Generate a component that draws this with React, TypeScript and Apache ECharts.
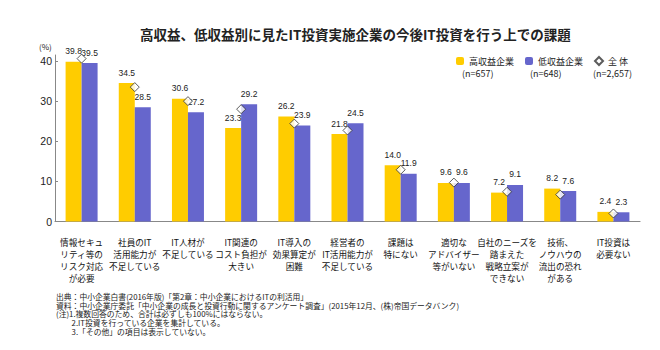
import React, { useEffect, useRef } from "react";
import * as echarts from "echarts";

const categories = [
  "情報セキュ\nリティ等の\nリスク対応\nが必要",
  "社員のIT\n活用能力が\n不足している",
  "IT人材が\n不足している",
  "IT関連の\nコスト負担が\n大きい",
  "IT導入の\n効果算定が\n困難",
  "経営者の\nIT活用能力が\n不足している",
  "課題は\n特にない",
  "適切な\nアドバイザー\n等がいない",
  "自社のニーズを\n踏まえた\n戦略立案が\nできない",
  "技術、\nノウハウの\n流出の恐れ\nがある",
  "IT投資は\n必要ない",
];

const highProfit = [39.8, 34.5, 30.6, 23.3, 26.2, 21.8, 14.0, 9.6, 7.2, 8.2, 2.4];
const lowProfit = [39.5, 28.5, 27.2, 29.2, 23.9, 24.5, 11.9, 9.6, 9.1, 7.6, 2.3];
const overall = [40.6, 33.5, 30.0, 28.0, 24.4, 22.7, 12.9, 9.7, 7.4, 6.7, 2.0];

const yTicks = [0, 10, 20, 30, 40];

const seriesNames = ["高収益企業", "低収益企業", "全 体"];
const seriesCounts = ["(n=657)", "(n=648)", "(n=2,657)"];

const titleText = "高収益、低収益別に見たIT投資実施企業の今後IT投資を行う上での課題";

const notes = [
  "出典：中小企業白書(2016年版)「第2章：中小企業におけるITの利活用」",
  "資料：中小企業庁委託「中小企業の成長と投資行動に関するアンケート調査」(2015年12月、(株)帝国データバンク)",
  "(注)1.複数回答のため、合計は必ずしも100%にはならない。",
  "　　2.IT投資を行っている企業を集計している。",
  "　　3.「その他」の項目は表示していない。",
];

const CJK = '"Noto Sans CJK JP", "Noto Sans", sans-serif';

export default function App() {
  const ref = useRef<HTMLDivElement>(null);

  useEffect(() => {
    document.body.style.margin = "0";
    if (!ref.current) return;
    const chart = echarts.init(ref.current, undefined, { renderer: "svg" });

    const countX = [462, 530, 593];

    const valueLabel = {
      show: true,
      position: "top",
      distance: 6,
      fontSize: 8.5,
      fontFamily: '"Liberation Sans Narrow", "Liberation Sans", sans-serif',
      color: "#222",
      formatter: (p: any) => Number(p.value).toFixed(1),
    };

    chart.setOption({
      animation: false,
      backgroundColor: "#ffffff",
      title: {
        text: titleText,
        left: 135,
        top: 21,
        textStyle: {
          fontSize: 13.5,
          fontWeight: "bold",
          fontFamily: CJK,
          color: "#222",
          lineHeight: 16,
        },
      },
      legend: {
        data: seriesNames,
        left: 451,
        top: 51,
        itemWidth: 8,
        itemHeight: 8,
        itemGap: 11,
        selectedMode: false,
        textStyle: { fontSize: 9, fontFamily: CJK, color: "#222" },
      },
      grid: { left: 55, right: 20, top: 55, bottom: 128.5 },
      xAxis: {
        type: "category",
        data: categories,
        axisLine: { lineStyle: { color: "#888", width: 1.2 } },
        axisTick: { show: false },
        axisLabel: {
          interval: 0,
          fontSize: 8.6,
          lineHeight: 12,
          margin: 14,
          color: "#111",
          fontFamily: CJK,
        },
      },
      yAxis: {
        type: "value",
        min: 0,
        max: 41.5,
        interval: 10,
        splitLine: { show: false },
        axisLine: { show: true, lineStyle: { color: "#888" } },
        axisTick: {
          show: true,
          inside: true,
          length: 3,
          customValues: yTicks,
          lineStyle: { color: "#888" },
        },
        axisLabel: {
          customValues: yTicks,
          fontSize: 10.5,
          margin: 3,
          color: "#222",
          fontFamily: '"Liberation Sans", sans-serif',
        },
      },
      graphic: [
        {
          type: "text",
          left: 39,
          top: 42,
          style: { text: "(%)", fontSize: 8, fill: "#222", fontFamily: CJK },
        },
        ...seriesCounts.map((t, i) => ({
          type: "text",
          x: countX[i],
          y: 73,
          style: {
            text: t,
            fontSize: 9,
            fill: "#222",
            fontFamily: CJK,
            verticalAlign: "middle",
          },
        })),
        {
          type: "text",
          left: 56,
          top: 292,
          style: {
            text: notes.join("\n"),
            fontSize: 7.8,
            lineHeight: 8.7,
            fill: "#222",
            fontFamily: CJK,
          },
        },
      ],
      series: [
        {
          name: seriesNames[0],
          type: "bar",
          data: highProfit,
          barWidth: 16,
          barGap: "0%",
          itemStyle: { color: "#FFCC00" },
          label: valueLabel,
        },
        {
          name: seriesNames[1],
          type: "bar",
          data: lowProfit,
          barWidth: 16,
          barGap: "0%",
          itemStyle: { color: "#6666CC" },
          label: valueLabel,
        },
        {
          name: seriesNames[2],
          type: "scatter",
          data: overall,
          symbol: "diamond",
          symbolSize: 9,
          z: 5,
          itemStyle: { color: "#ffffff", borderColor: "#333", borderWidth: 1 },
        },
      ],
    });

    return () => chart.dispose();
  }, []);

  return <div ref={ref} style={{ width: 660, height: 350 }} />;
}
